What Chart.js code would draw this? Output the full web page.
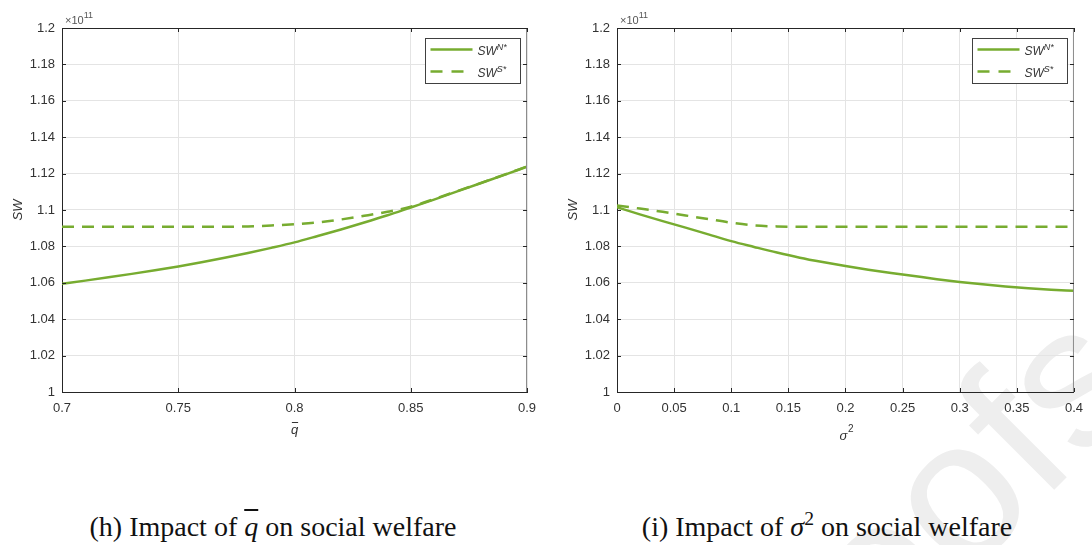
<!DOCTYPE html>
<html><head><meta charset="utf-8">
<script src="https://cdn.jsdelivr.net/npm/chart.js@4.4.1/dist/chart.umd.min.js"></script>
<style>
body{margin:0;background:#fff;width:1092px;height:545px;overflow:hidden;position:relative}
canvas{position:absolute;top:0}
#wm{position:absolute;left:0;top:0}
#c1{left:0}
#c2{left:546px}
.cap{position:absolute;top:513px;font-family:"Liberation Serif","Times New Roman",serif;font-size:28px;line-height:1;color:#111;text-align:center;width:546px;white-space:nowrap}
.ol{text-decoration:overline;text-decoration-thickness:2px;font-style:italic}
sup{font-size:0.7em;line-height:0;vertical-align:0.55em}
</style></head>
<body>
<svg id="wm" width="1092" height="545"><text x="743" y="801" transform="rotate(-45 743 801)" font-size="200" fill="#eeeeee" font-family="Liberation Sans, Arial, sans-serif">Proofs</text></svg>
<canvas id="c1" width="546" height="450"></canvas>
<canvas id="c2" width="546" height="450"></canvas>
<div class="cap" style="left:0">(h) Impact of <span class="ol">q</span> on social welfare</div>
<div class="cap" style="left:554px">(i) Impact of <i>σ</i><sup>2</sup> on social welfare</div>
<script>
// ---- data (SW values in units of 1e11) ----
const qbar = [0.70,0.71,0.72,0.73,0.74,0.75,0.76,0.77,0.78,0.79,0.80,0.81,0.82,0.83,0.84,0.85,0.86,0.87,0.88,0.89,0.90];
const swN_q = [1.0595,1.0612,1.0630,1.0649,1.0669,1.0690,1.0713,1.0738,1.0764,1.0792,1.0822,1.0857,1.0893,1.0931,1.0971,1.1014,1.1057,1.1102,1.1147,1.1192,1.1238];
const swS_q = [1.0908,1.0908,1.0908,1.0908,1.0908,1.0908,1.0908,1.0908,1.0910,1.0915,1.0922,1.0932,1.0948,1.0968,1.0990,1.1018,1.1060,1.1104,1.1148,1.1193,1.1239];
const sigma2 = [0.00,0.02,0.04,0.06,0.08,0.10,0.12,0.14,0.16,0.18,0.20,0.22,0.24,0.26,0.28,0.30,0.32,0.34,0.36,0.38,0.40];
const swN_s = [1.1015,1.0976,1.0939,1.0903,1.0866,1.0829,1.0797,1.0766,1.0738,1.0714,1.0692,1.0672,1.0654,1.0637,1.0620,1.0605,1.0592,1.0580,1.0570,1.0562,1.0556];
const swS_s = [1.1025,1.1008,1.0990,1.0970,1.0950,1.0930,1.0915,1.0910,1.0908,1.0908,1.0908,1.0908,1.0908,1.0908,1.0908,1.0908,1.0908,1.0908,1.0908,1.0908,1.0908];
const yTicks = [1,1.02,1.04,1.06,1.08,1.1,1.12,1.14,1.16,1.18,1.2];
const xTicksQ = [0.7,0.75,0.8,0.85,0.9];
const xTicksS = [0,0.05,0.1,0.15,0.2,0.25,0.3,0.35,0.4];

const GREEN = '#77AC30';
const AX = '#262626';
const TXT = '#333333';
const FONT = '"Liberation Sans", Arial, sans-serif';

function pts(xs, ys){ return xs.map((x,i)=>({x:x,y:ys[i]})); }
function fmt(v){ return String(Number(v.toFixed(3))); }

function deco(xlabel){
  return {
    id:'deco',
    afterDraw(chart){
      const ctx = chart.ctx, ca = chart.chartArea;
      const xs = chart.scales.x, ys = chart.scales.y;
      ctx.save();
      ctx.lineWidth = 1;
      ctx.strokeStyle = AX;
      ctx.beginPath(); ctx.moveTo(ca.left, ca.top+0.5); ctx.lineTo(ca.right, ca.top+0.5); ctx.stroke();
      ctx.strokeStyle = '#8c8c8c';
      ctx.beginPath(); ctx.moveTo(ca.right-0.5, ca.top); ctx.lineTo(ca.right-0.5, ca.bottom); ctx.stroke();
      ctx.strokeStyle = AX;
      ctx.beginPath();
      yTicks.forEach(t=>{ const p = Math.round(ys.getPixelForValue(t))+0.5;
        ctx.moveTo(ca.left, p); ctx.lineTo(ca.left+4, p);
        ctx.moveTo(ca.right, p); ctx.lineTo(ca.right-4, p); });
      xs.ticks.forEach(t=>{ const p = Math.round(xs.getPixelForValue(t.value))+0.5;
        ctx.moveTo(p, ca.bottom); ctx.lineTo(p, ca.bottom-4);
        ctx.moveTo(p, ca.top); ctx.lineTo(p, ca.top+4); });
      ctx.stroke();
      // exponent
      ctx.fillStyle = '#555';
      ctx.textBaseline = 'alphabetic'; ctx.textAlign = 'left';
      ctx.font = '11px ' + FONT;
      ctx.fillText('\u00d710', ca.left+3, ca.top-4);
      const w10 = ctx.measureText('\u00d710').width;
      ctx.font = '9px ' + FONT;
      ctx.fillText('11', ca.left+3+w10, ca.top-10);
      // y title
      ctx.fillStyle = TXT;
      ctx.save();
      ctx.translate(ca.left-44, (ca.top+ca.bottom)/2);
      ctx.rotate(-Math.PI/2);
      ctx.textAlign = 'center'; ctx.textBaseline = 'middle';
      ctx.font = 'italic 13px ' + FONT;
      ctx.fillText('SW', 0, 0);
      ctx.restore();
      // x title
      const cx = (ca.left+ca.right)/2;
      ctx.textAlign = 'left';
      if (xlabel === 'q') {
        ctx.font = 'italic 13px ' + FONT;
        const w = ctx.measureText('q').width;
        ctx.fillText('q', cx - w/2, ca.bottom+42);
        ctx.fillRect(cx - w/2 + 1, ca.bottom+30, w-1, 1);
      } else {
        ctx.font = 'italic 13px ' + FONT;
        const w = ctx.measureText('\u03c3').width;
        ctx.fillText('\u03c3', cx - w/2 - 2, ca.bottom+48);
        ctx.font = '10px ' + FONT;
        ctx.fillText('2', cx - w/2 - 2 + w + 0.5, ca.bottom+40);
      }
      // legend
      const bw = 95, bh = 45;
      const lx = Math.round(ca.right - 7 - bw)+0.5, ly = Math.round(ca.top + 10)+0.5;
      ctx.fillStyle = '#fff'; ctx.fillRect(lx, ly, bw, bh);
      ctx.strokeStyle = '#404040'; ctx.lineWidth = 1; ctx.strokeRect(lx, ly, bw, bh);
      ctx.strokeStyle = GREEN; ctx.lineWidth = 2.5;
      ctx.beginPath(); ctx.moveTo(lx+5, ly+11); ctx.lineTo(lx+47, ly+11); ctx.stroke();
      ctx.setLineDash([12,9]);
      ctx.beginPath(); ctx.moveTo(lx+5, ly+33); ctx.lineTo(lx+47, ly+33); ctx.stroke();
      ctx.setLineDash([]);
      ctx.fillStyle = TXT;
      [['N*', ly+16], ['S*', ly+38]].forEach(([sup, by])=>{
        ctx.font = 'italic 12px ' + FONT;
        ctx.fillText('SW', lx+52, by);
        const ws = ctx.measureText('SW').width;
        ctx.font = 'italic 9px ' + FONT;
        ctx.fillText(sup, lx+52+ws, by-5);
      });
      ctx.restore();
    }
  };
}

function makeChart(id, xs, n, s, xmin, xmax, step, yAxisW, padRight, xlabel){
  return new Chart(document.getElementById(id), {
    type:'line',
    data:{datasets:[
      {data:pts(xs,n), borderColor:GREEN, borderWidth:2.5, pointRadius:0, cubicInterpolationMode:'monotone', fill:false},
      {data:pts(xs,s), borderColor:GREEN, borderWidth:2.5, borderDash:[12,8], pointRadius:0, cubicInterpolationMode:'monotone', fill:false}
    ]},
    options:{
      responsive:false, animation:false, devicePixelRatio:1,
      layout:{padding:{top:28,right:padRight,left:0,bottom:0}},
      plugins:{legend:{display:false},tooltip:{enabled:false}},
      scales:{
        x:{type:'linear', min:xmin, max:xmax,
           afterFit(sc){ sc.height = 58; },
           afterBuildTicks(sc){ sc.ticks = (xlabel==='q'?xTicksQ:xTicksS).map(v=>({value:v})); },
           ticks:{stepSize:step, padding:9, color:TXT, font:{size:13,family:FONT}, maxRotation:0, autoSkip:false, callback:v=>fmt(v)},
           grid:{color:'#e4e4e4', drawTicks:false}, border:{color:AX, width:1}},
        y:{min:1, max:1.2,
           afterFit(sc){ sc.width = yAxisW; },
           afterBuildTicks(sc){ sc.ticks = yTicks.map(v=>({value:v})); },
           ticks:{stepSize:0.02, padding:7, color:TXT, font:{size:13,family:FONT}, autoSkip:false, callback:v=>fmt(v)},
           grid:{color:'#e4e4e4', drawTicks:false}, border:{color:AX, width:1}}
      }
    },
    plugins:[deco(xlabel)]
  });
}

makeChart('c1', qbar, swN_q, swS_q, 0.7, 0.9, 0.05, 62, 19, 'q');
makeChart('c2', sigma2, swN_s, swS_s, 0, 0.4, 0.05, 71, 10, 's');
</script>
</body></html>
